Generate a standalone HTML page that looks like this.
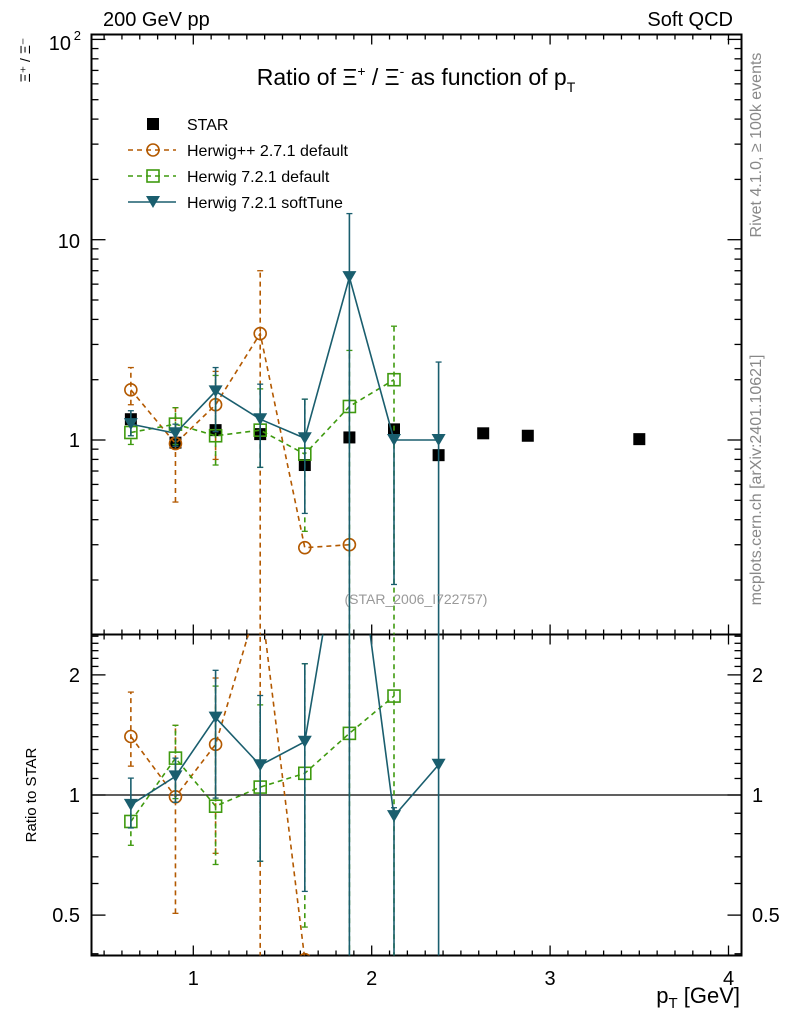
<!DOCTYPE html>
<html><head><meta charset="utf-8"><style>
html,body{margin:0;padding:0;background:#fff;overflow:hidden;width:786px;height:1024px;}
svg{display:block;font-family:"Liberation Sans",sans-serif;}
</style></head><body>
<svg id="c" width="786" height="1024" viewBox="0 0 786 1024" xmlns="http://www.w3.org/2000/svg">
<g id="g"></g>
</svg>
<script>
const pts = [0.65,0.9,1.125,1.375,1.625,1.875,2.125,2.375,2.625,2.875,3.5];
const star = [1.27,0.97,1.12,1.07,0.75,1.03,1.13,0.84,1.08,1.05,1.01];
const hppX = [0.65,0.9,1.125,1.375,1.625,1.875];
const hppY = [1.78,0.96,1.5,3.4,0.29,0.30];
const hppLo = [1.5,0.49,0.8,0.05,null,null];
const hppHi = [2.3,1.45,2.2,7.0,null,null];
const h7X = [0.65,0.9,1.125,1.375,1.625,1.875,2.125];
const h7Y = [1.09,1.2,1.05,1.12,0.85,1.47,2.0];
const h7Lo = [0.95,0.95,0.75,0.73,0.35,0.05,0.05];
const h7Hi = [1.2,1.45,2.1,1.8,1.6,2.8,3.7];
const stX = [0.65,0.9,1.125,1.375,1.625,1.875,2.125,2.375];
const stY = [1.2,1.08,1.75,1.27,1.02,6.5,1.0,1.0];
const stLo = [1.05,0.93,1.1,0.73,0.43,0.05,0.19,0.05];
const stHi = [1.4,1.2,2.3,1.9,1.6,13.5,1.05,2.45];
const xTicks = [1,2,3,4];

const L=91.5,R=741.5,T=34.5,M=634.5,B=955.5;
const X=p=>193.3+(p-1)*178.4;
const Y=v=>440-200.3*Math.log10(v);
const RY=v=>795-399*Math.log10(v);
const NS="http://www.w3.org/2000/svg";
const g=document.getElementById('g');
function el(tag,attrs,parent){const e=document.createElementNS(NS,tag);for(const k in attrs)e.setAttribute(k,attrs[k]);(parent||g).appendChild(e);return e;}
function txt(s,x,y,size,anchor,fill,parent){const t=el('text',{x:x,y:y,'font-size':size,'text-anchor':anchor||'start',fill:fill||'#000'},parent);t.textContent=s;return t;}

const defs=el('defs',{});
const c1=el('clipPath',{id:'cm'},defs);el('rect',{x:L,y:T,width:R-L,height:M-T},c1);
const c2=el('clipPath',{id:'cr'},defs);el('rect',{x:L,y:M,width:R-L,height:B-M},c2);

const f1=el('rect',{x:L,y:T,width:R-L,height:M-T,fill:'none',stroke:'#000','stroke-width':2});


const f2=el('rect',{x:L,y:M,width:R-L,height:B-M,fill:'none',stroke:'#000','stroke-width':2});



const xt=el('g',{stroke:'#000','stroke-width':1.3});


for(let i=5;i<=40;i++){const p=i/10,x=X(p);if(x<L||x>R)continue;const len=(i%10==0)?10:5;
 [[T,1],[M,-1],[M,1],[B,-1]].forEach(([y0,d])=>el('line',{x1:x,x2:x,y1:y0,y2:y0+d*len},xt));}
xTicks.forEach(v=>{const t=txt(String(v),X(v),985,20,'middle');});

const yt=el('g',{stroke:'#000','stroke-width':1.3});


for(let d=-1;d<=2;d++)for(let m=1;m<=9;m++){const v=m*Math.pow(10,d),y=Y(v);if(y<T||y>M)continue;const len=m==1?14:7;
 el('line',{x1:L,x2:L+len,y1:y,y2:y},yt);el('line',{x1:R,x2:R-len,y1:y,y2:y},yt);}
[['1',447],['10',248]].forEach(([s,y])=>{const t=txt(s,80,y,20,'end');});
const t100=txt('10',71,50,20,'end');
txt('2',81,40,13,'end');

const rt=el('g',{stroke:'#000','stroke-width':1.3});


for(let i=3;i<=30;i++){const v=i/10,y=RY(v);if(y<M||y>B)continue;const len=(i==10||i==20||i==5)?14:7;
 el('line',{x1:L,x2:L+len,y1:y,y2:y},rt);el('line',{x1:R,x2:R-len,y1:y,y2:y},rt);}
[['2',2],['1',1],['0.5',0.5]].forEach(([s,v])=>{const a=txt(s,80,RY(v)+7,20,'end');
 const b=txt(s,752,RY(v)+7,20,'start');});
const one=el('line',{x1:L,x2:R,y1:RY(1),y2:RY(1),stroke:'#000','stroke-width':1.3});



function marker(type,x,y,color,parent){
 if(type=='sq')el('rect',{x:x-6,y:y-6,width:12,height:12,fill:'none',stroke:color,'stroke-width':1.6},parent);
 else if(type=='fsq')el('rect',{x:x-6,y:y-6,width:12,height:12,fill:color},parent);
 else if(type=='ci')el('circle',{cx:x,cy:y,r:6,fill:'none',stroke:color,'stroke-width':1.6},parent);
 else if(type=='tri')el('path',{d:`M${x-7},${y-6}L${x+7},${y-6}L${x},${y+6}Z`,fill:color},parent);
}
function drawSeries(name,xs,ys,lo,hi,color,dash,type,ratio){
 const grp=el('g',{'clip-path':ratio?'url(#cr)':'url(#cm)'});
 
 
 const fy=(v,i)=>ratio?RY(v/star[pts.indexOf(xs[i])]):Y(v);
 const d=xs.map((x,i)=>(i?'L':'M')+X(x)+','+fy(ys[i],i)).join('');
 el('path',{d:d,fill:'none',stroke:color,'stroke-width':1.6,'stroke-dasharray':dash||''},grp);
 xs.forEach((x,i)=>{if(lo&&lo[i]!=null){const px=X(x),y1=fy(lo[i],i),y2=fy(hi[i],i);
  el('line',{x1:px,x2:px,y1:y1,y2:y2,stroke:color,'stroke-width':1.6,'stroke-dasharray':dash||''},grp);
  el('line',{x1:px-3,x2:px+3,y1:y1,y2:y1,stroke:color,'stroke-width':1.3},grp);
  el('line',{x1:px-3,x2:px+3,y1:y2,y2:y2,stroke:color,'stroke-width':1.3},grp);}
  marker(type,X(x),fy(ys[i],i),color,grp);});
}
const sg=el('g',{'clip-path':'url(#cm)'});


pts.forEach((p,i)=>marker('fsq',X(p),Y(star[i]),'#000',sg));
drawSeries('herwigpp-271-series',hppX,hppY,hppLo,hppHi,'#b35900','5,4','ci',false);
drawSeries('herwig-721-default-series',h7X,h7Y,h7Lo,h7Hi,'#3f9a0f','5,4','sq',false);
drawSeries('herwig-721-softtune-series',stX,stY,stLo,stHi,'#1a5e6e','','tri',false);
drawSeries('herwigpp-271-ratio',hppX,hppY,hppLo,hppHi,'#b35900','5,4','ci',true);
drawSeries('herwig-721-default-ratio',h7X,h7Y,h7Lo,h7Hi,'#3f9a0f','5,4','sq',true);
drawSeries('herwig-721-softtune-ratio',stX,stY,stLo,stHi,'#1a5e6e','','tri',true);

const lg=el('g',{});


const leg=[['STAR','fsq','#000',null],['Herwig++ 2.7.1 default','ci','#b35900','5,4'],['Herwig 7.2.1 default','sq','#3f9a0f','5,4'],['Herwig 7.2.1 softTune','tri','#1a5e6e','']];
leg.forEach(([s,t,c,d],i)=>{const y=124+i*26;const e=el('g',{},lg);
 
 
 if(d!==null)el('line',{x1:128,x2:176,y1:y,y2:y,stroke:c,'stroke-width':1.6,'stroke-dasharray':d},e);
 marker(t,153,y,c,e);txt(s,187,y+6,16,'start','#000',e);});

const a=txt('200 GeV pp',103,26,20);
const b=txt('Soft QCD',733,26,20,'end');
const ti=el('text',{x:416,y:85,'font-size':23,'text-anchor':'middle'});

ti.innerHTML='Ratio of Ξ<tspan dy="-9" font-size="14">+</tspan><tspan dy="9"> / Ξ</tspan><tspan dy="-9" font-size="14">-</tspan><tspan dy="9"> as function of p</tspan><tspan dy="7" font-size="14">T</tspan>';
const ref=txt('(STAR_2006_I722757)',416,604,14,'middle','#999');
const xl=el('text',{x:740,y:1003,'font-size':22,'text-anchor':'end'});

xl.innerHTML='p<tspan dy="5" font-size="15">T</tspan><tspan dy="-5"> [GeV]</tspan>';
const rl=txt('Ratio to STAR',36,795,15,'middle');rl.setAttribute('transform','rotate(-90 36 795)');

const yl=txt('Ξ⁺ / Ξ⁻',30,60,14,'middle');yl.setAttribute('transform','rotate(-90 30 60)');

const r1=txt('Rivet 4.1.0, ≥ 100k events',761,145,16,'middle','#888');r1.setAttribute('transform','rotate(-90 761 145)');

const r2=txt('mcplots.cern.ch [arXiv:2401.10621]',761,480,16,'middle','#888');r2.setAttribute('transform','rotate(-90 761 480)');

</script>
</body></html>
